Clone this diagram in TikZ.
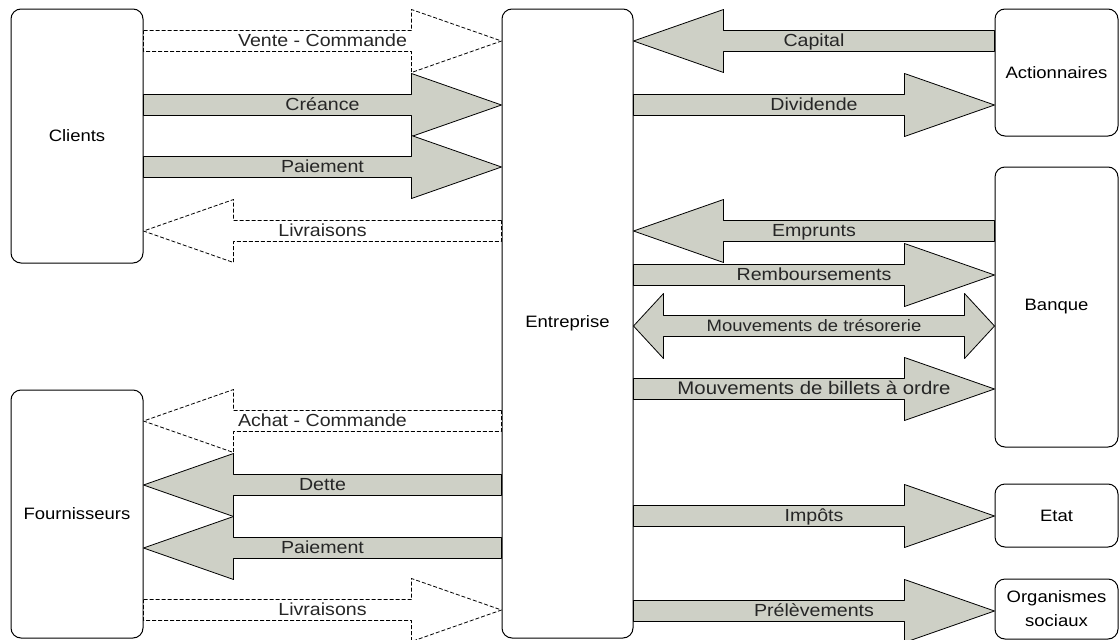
\documentclass[tikz,border=0pt]{standalone}
\usepackage{fontspec}
\setmainfont[FakeStretch=1.12]{Liberation Sans}
\usetikzlibrary{calc}
\definecolor{flowgray}{RGB}{206,208,198}
\newcommand\boxfont{\fontsize{16.5}{24}\selectfont}
\newcommand\flowfont{\fontsize{17.5}{20}\selectfont}
\tikzset{
  actor/.style={draw, rounded corners=10pt, line width=1pt, font=\boxfont, align=center, inner sep=0pt},
  flow/.style={draw, fill=flowgray, line width=0.8pt},
  dashflow/.style={draw, fill=white, line width=0.8pt, dash pattern=on 4pt off 2pt},
  flowlabel/.style={font=\flowfont, text=black!85, inner sep=0pt, text height=1.45ex, text depth=.3ex, yshift=-2pt},
}
% block arrow from #2 to the tip #3, label #4
\newcommand\blockarrow[4][flow]{%
  \draw[#1] let \p1=(#2), \p2=(#3), \n1={ifthenelse(\x2>\x1,1,-1)} in
    (\x1,\y1+10.5pt) -- (\x2-\n1*90pt,\y1+10.5pt) -- (\x2-\n1*90pt,\y1+31.5pt)
    -- (\x2,\y1) -- (\x2-\n1*90pt,\y1-31.5pt) -- (\x2-\n1*90pt,\y1-10.5pt)
    -- (\x1,\y1-10.5pt) -- cycle
    ({(\x1+\x2)/2},\y1) node[flowlabel] {#4};
}
\begin{document}
\begin{tikzpicture}[x=1pt, y=-1pt, line join=round]
	\clip (0,0) rectangle (1120,640);
	% partners
	\node[actor, minimum width=132pt, minimum height=254pt] (clients) at (77,136) {Clients};
	\node[actor, minimum width=132pt, minimum height=248pt] (fournisseurs) at (77,514) {Fournisseurs};
	\node[actor, minimum width=131pt, minimum height=629pt] (entreprise) at (567.5,323.5) {Entreprise};
	\node[actor, minimum width=123pt, minimum height=127pt] (actionnaires) at (1056.5,72.5) {Actionnaires};
	\node[actor, minimum width=123pt, minimum height=280pt] (banque) at (1056.5,307) {Banque};
	\node[actor, minimum width=123pt, minimum height=63pt] (etat) at (1056.5,515.5) {Etat};
	\node[actor, minimum width=123pt, minimum height=60pt] (organismes) at (1056.5,609) {Organismes\\sociaux};
	% clients
	\blockarrow[dashflow]{clients.east |- 0,41}{entreprise.west |- 0,41}{Vente - Commande}
	\foreach \pos/\txt in {105/Créance, 167/Paiement}
	{\blockarrow{clients.east |- 0,\pos}{entreprise.west |- 0,\pos}{\txt}}
	\blockarrow[dashflow]{entreprise.west |- 0,231}{clients.east |- 0,231}{Livraisons}
	% fournisseurs
	\blockarrow[dashflow]{entreprise.west |- 0,421}{fournisseurs.east |- 0,421}{Achat - Commande}
	\foreach \pos/\txt in {485/Dette, 548/Paiement}
	{\blockarrow{entreprise.west |- 0,\pos}{fournisseurs.east |- 0,\pos}{\txt}}
	\blockarrow[dashflow]{fournisseurs.east |- 0,610}{entreprise.west |- 0,610}{Livraisons}
	% right side
	\blockarrow{actionnaires.west |- 0,41}{entreprise.east |- 0,41}{Capital}
	\blockarrow{entreprise.east |- 0,105}{actionnaires.west |- 0,105}{Dividende}
	\blockarrow{banque.west |- 0,231}{entreprise.east |- 0,231}{Emprunts}
	\blockarrow{entreprise.east |- 0,275}{banque.west |- 0,275}{Remboursements}
	\draw[flow] let \p1=(entreprise.east |- 0,326), \p2=(banque.west |- 0,326) in
		(\x1,\y1) -- (\x1+30pt,\y1+32.5pt) -- (\x1+30pt,\y1+10.5pt) -- (\x2-30pt,\y1+10.5pt)
		-- (\x2-30pt,\y1+32.5pt) -- (\x2,\y1) -- (\x2-30pt,\y1-32.5pt) -- (\x2-30pt,\y1-10.5pt)
		-- (\x1+30pt,\y1-10.5pt) -- (\x1+30pt,\y1-32.5pt) -- cycle
		({(\x1+\x2)/2},\y1) node[flowlabel, font=\fontsize{16.5}{19}\selectfont] {Mouvements de trésorerie};
	\blockarrow{entreprise.east |- 0,389}{banque.west |- 0,389}{\fontsize{18.2}{20}\selectfont Mouvements de billets à ordre}
	\blockarrow{entreprise.east |- 0,516}{etat.west |- 0,516}{Impôts}
	\blockarrow{entreprise.east |- 0,611}{organismes.west |- 0,611}{Prélèvements}
\end{tikzpicture}
\end{document}
